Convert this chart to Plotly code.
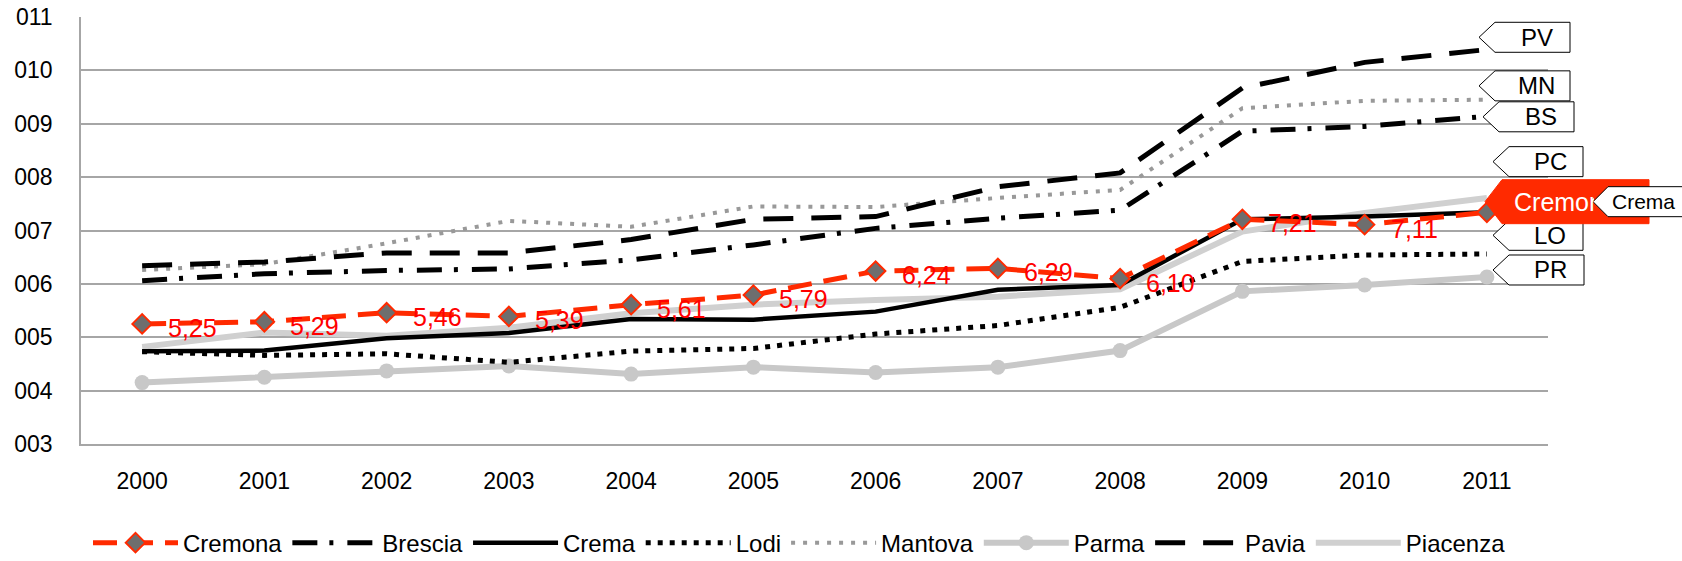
import plotly.graph_objects as go

# ---------------- data ----------------
years = [2000, 2001, 2002, 2003, 2004, 2005, 2006, 2007, 2008, 2009, 2010, 2011]
cremona = [5.25, 5.29, 5.46, 5.39, 5.61, 5.79, 6.24, 6.29, 6.10, 7.21, 7.11, 7.34]
brescia = [6.06, 6.19, 6.25, 6.28, 6.45, 6.73, 7.04, 7.23, 7.38, 8.86, 8.95, 9.14]
crema = [4.74, 4.75, 4.98, 5.08, 5.34, 5.33, 5.48, 5.89, 5.98, 7.21, 7.26, 7.34]
lodi = [4.73, 4.66, 4.69, 4.53, 4.74, 4.79, 5.06, 5.22, 5.56, 6.42, 6.54, 6.56]
mantova = [6.26, 6.37, 6.76, 7.18, 7.07, 7.45, 7.44, 7.61, 7.76, 9.29, 9.43, 9.45]
parma = [4.15, 4.25, 4.37, 4.46, 4.31, 4.44, 4.34, 4.44, 4.75, 5.86, 5.98, 6.13]
pavia = [6.34, 6.41, 6.58, 6.58, 6.83, 7.21, 7.26, 7.82, 8.08, 9.67, 10.15, 10.39]
piacenza = [4.82, 5.09, 5.03, 5.18, 5.45, 5.61, 5.70, 5.76, 5.90, 6.98, 7.33, 7.61]

tag_labels = {"Pavia": "PV", "Mantova": "MN", "Brescia": "BS", "Piacenza": "PC",
              "Lodi": "LO", "Parma": "PR", "Cremona": "Cremona", "Crema": "Crema"}

series = {"Cremona": cremona, "Brescia": brescia, "Crema": crema, "Lodi": lodi,
          "Mantova": mantova, "Parma": parma, "Pavia": pavia, "Piacenza": piacenza}

# ---------------- layout constants ----------------
W, H = 1682, 561
ML, MR, MT, MB = 81, 134, 17, 117
PW, PH = W - ML - MR, H - MT - MB
YMIN, YMAX = 3, 11
FONT = "Liberation Sans, Arial, sans-serif"
RED = "#FF2A00"
GRID = "#A6A6A6"


def px_x(px):
    return (px - ML) / PW


def val_y(v):
    return (v - YMIN) / (YMAX - YMIN)


def dpx_y(p):
    return p / PH


styles = {
    "Piacenza": dict(line=dict(color="#D0D0D0", width=6), mode="lines"),
    "Parma": dict(line=dict(color="#C8C8C8", width=6), mode="lines+markers",
                  marker=dict(symbol="circle", size=15, color="#C8C8C8")),
    "Mantova": dict(line=dict(color="#999999", width=4, dash="4px,8px"), mode="lines"),
    "Lodi": dict(line=dict(color="#000000", width=5, dash="5px,7px"), mode="lines"),
    "Brescia": dict(line=dict(color="#000000", width=5, dash="25px,12px,4px,14px"), mode="lines"),
    "Pavia": dict(line=dict(color="#000000", width=5, dash="30px,18px"), mode="lines"),
    "Crema": dict(line=dict(color="#000000", width=4.5), mode="lines"),
    "Cremona": dict(line=dict(color=RED, width=5, dash="24px,12px"), mode="lines+markers",
                    marker=dict(symbol="diamond", size=15, color="#6E6E6E",
                                line=dict(color=RED, width=2))),
}
legend_rank = {"Cremona": 1, "Brescia": 2, "Crema": 3, "Lodi": 4,
               "Mantova": 5, "Parma": 6, "Pavia": 7, "Piacenza": 8}
draw_order = ["Piacenza", "Parma", "Mantova", "Lodi", "Brescia", "Pavia", "Crema", "Cremona"]

fig = go.Figure()
for name in draw_order:
    fig.add_trace(go.Scatter(x=years, y=series[name], name=name,
                             legendrank=legend_rank[name], **styles[name]))

annotations = []
# Cremona data labels
for yr, v in list(zip(years, cremona))[:-1]:
    annotations.append(dict(x=yr, y=v, xref="x", yref="y", text=f"{v:.2f}".replace(".", ","),
                            showarrow=False, xanchor="left", yanchor="middle",
                            xshift=24, yshift=-4,
                            font=dict(family=FONT, size=25, color="#FF0000")))

# ---------------- end-of-line tags ----------------
# (series, label offset in value units, tip px, right px, half height px)
tag_specs = [
    ("Pavia", 0.23, 1479, 1570, 15),
    ("Mantova", 0.26, 1479, 1570, 15),
    ("Brescia", -0.01, 1483, 1574, 15),
    ("Piacenza", 0.68, 1493, 1583, 15),
    ("Lodi", 0.35, 1493, 1583, 15),
    ("Parma", 0.13, 1493, 1584, 15),
]
shapes = []


def tag_path(tip, depth, right, cy, half):
    yc = val_y(cy)
    hh = dpx_y(half)
    return (f"M{px_x(tip)},{yc} L{px_x(tip + depth)},{yc + hh} L{px_x(right)},{yc + hh} "
            f"L{px_x(right)},{yc - hh} L{px_x(tip + depth)},{yc - hh} Z")


for name, off, tip, right, half in tag_specs:
    cy = series[name][-1] + off
    shapes.append(dict(type="path", xref="paper", yref="paper", layer="above",
                       path=tag_path(tip, 16, right, cy, half),
                       fillcolor="white", line=dict(color="black", width=1)))
    cx = (tip + 16 + right) / 2 + 4
    annotations.append(dict(x=px_x(cx), y=val_y(cy), xref="paper", yref="paper",
                            text=tag_labels[name], showarrow=False,
                            xanchor="center", yanchor="middle",
                            font=dict(family=FONT, size=24, color="black")))

# Cremona (highlighted) tag
cy_cr = cremona[-1] + 0.20
shapes.append(dict(type="path", xref="paper", yref="paper", layer="above",
                   path=tag_path(1485, 17, 1649, cy_cr, 22),
                   fillcolor=RED, line=dict(color=RED, width=1)))
annotations.append(dict(x=px_x(1512), y=val_y(cy_cr), xref="paper", yref="paper",
                        text=tag_labels["Cremona"], showarrow=False, width=80, align="left",
                        xanchor="left", yanchor="middle",
                        font=dict(family=FONT, size=25, color="white")))
# Crema tag
cy_ce = crema[-1] + 0.20
shapes.append(dict(type="path", xref="paper", yref="paper", layer="above",
                   path=tag_path(1593, 15, 1700, cy_ce, 15),
                   fillcolor="white", line=dict(color="black", width=1)))
annotations.append(dict(x=px_x(1610), y=val_y(cy_ce), xref="paper", yref="paper",
                        text=tag_labels["Crema"], showarrow=False,
                        xanchor="left", yanchor="middle",
                        font=dict(family=FONT, size=21, color="black")))

fig.update_layout(
    width=W, height=H,
    margin=dict(l=ML, r=MR, t=MT, b=MB, autoexpand=False),
    paper_bgcolor="white", plot_bgcolor="white",
    font=dict(family=FONT, size=23, color="black"),
    xaxis=dict(range=[1999.5, 2011.5], tickvals=years, ticktext=[str(y) for y in years],
               showgrid=False, zeroline=False, showline=True, linecolor=GRID, linewidth=1.5,
               ticks="outside", ticklen=16, tickcolor="rgba(0,0,0,0)",
               tickfont=dict(family=FONT, size=23, color="black")),
    yaxis=dict(range=[YMIN, YMAX], dtick=1, tick0=3, tickformat="03d",
               showgrid=True, gridcolor=GRID, gridwidth=1.5, zeroline=False,
               showline=True, linecolor=GRID, linewidth=1.5,
               ticks="outside", ticklen=22, tickcolor="rgba(0,0,0,0)",
               tickfont=dict(family=FONT, size=23, color="black")),
    legend=dict(orientation="h", x=px_x(88), xanchor="left", y=-0.232, yanchor="middle",
                font=dict(family=FONT, size=24, color="black"), itemwidth=85,
                bgcolor="rgba(0,0,0,0)"),
    shapes=shapes,
    annotations=annotations,
    showlegend=True,
)

fig.write_html("out.html", config={"displayModeBar": False},
               post_script="document.body.style.margin='0';document.body.style.overflow='hidden';")
